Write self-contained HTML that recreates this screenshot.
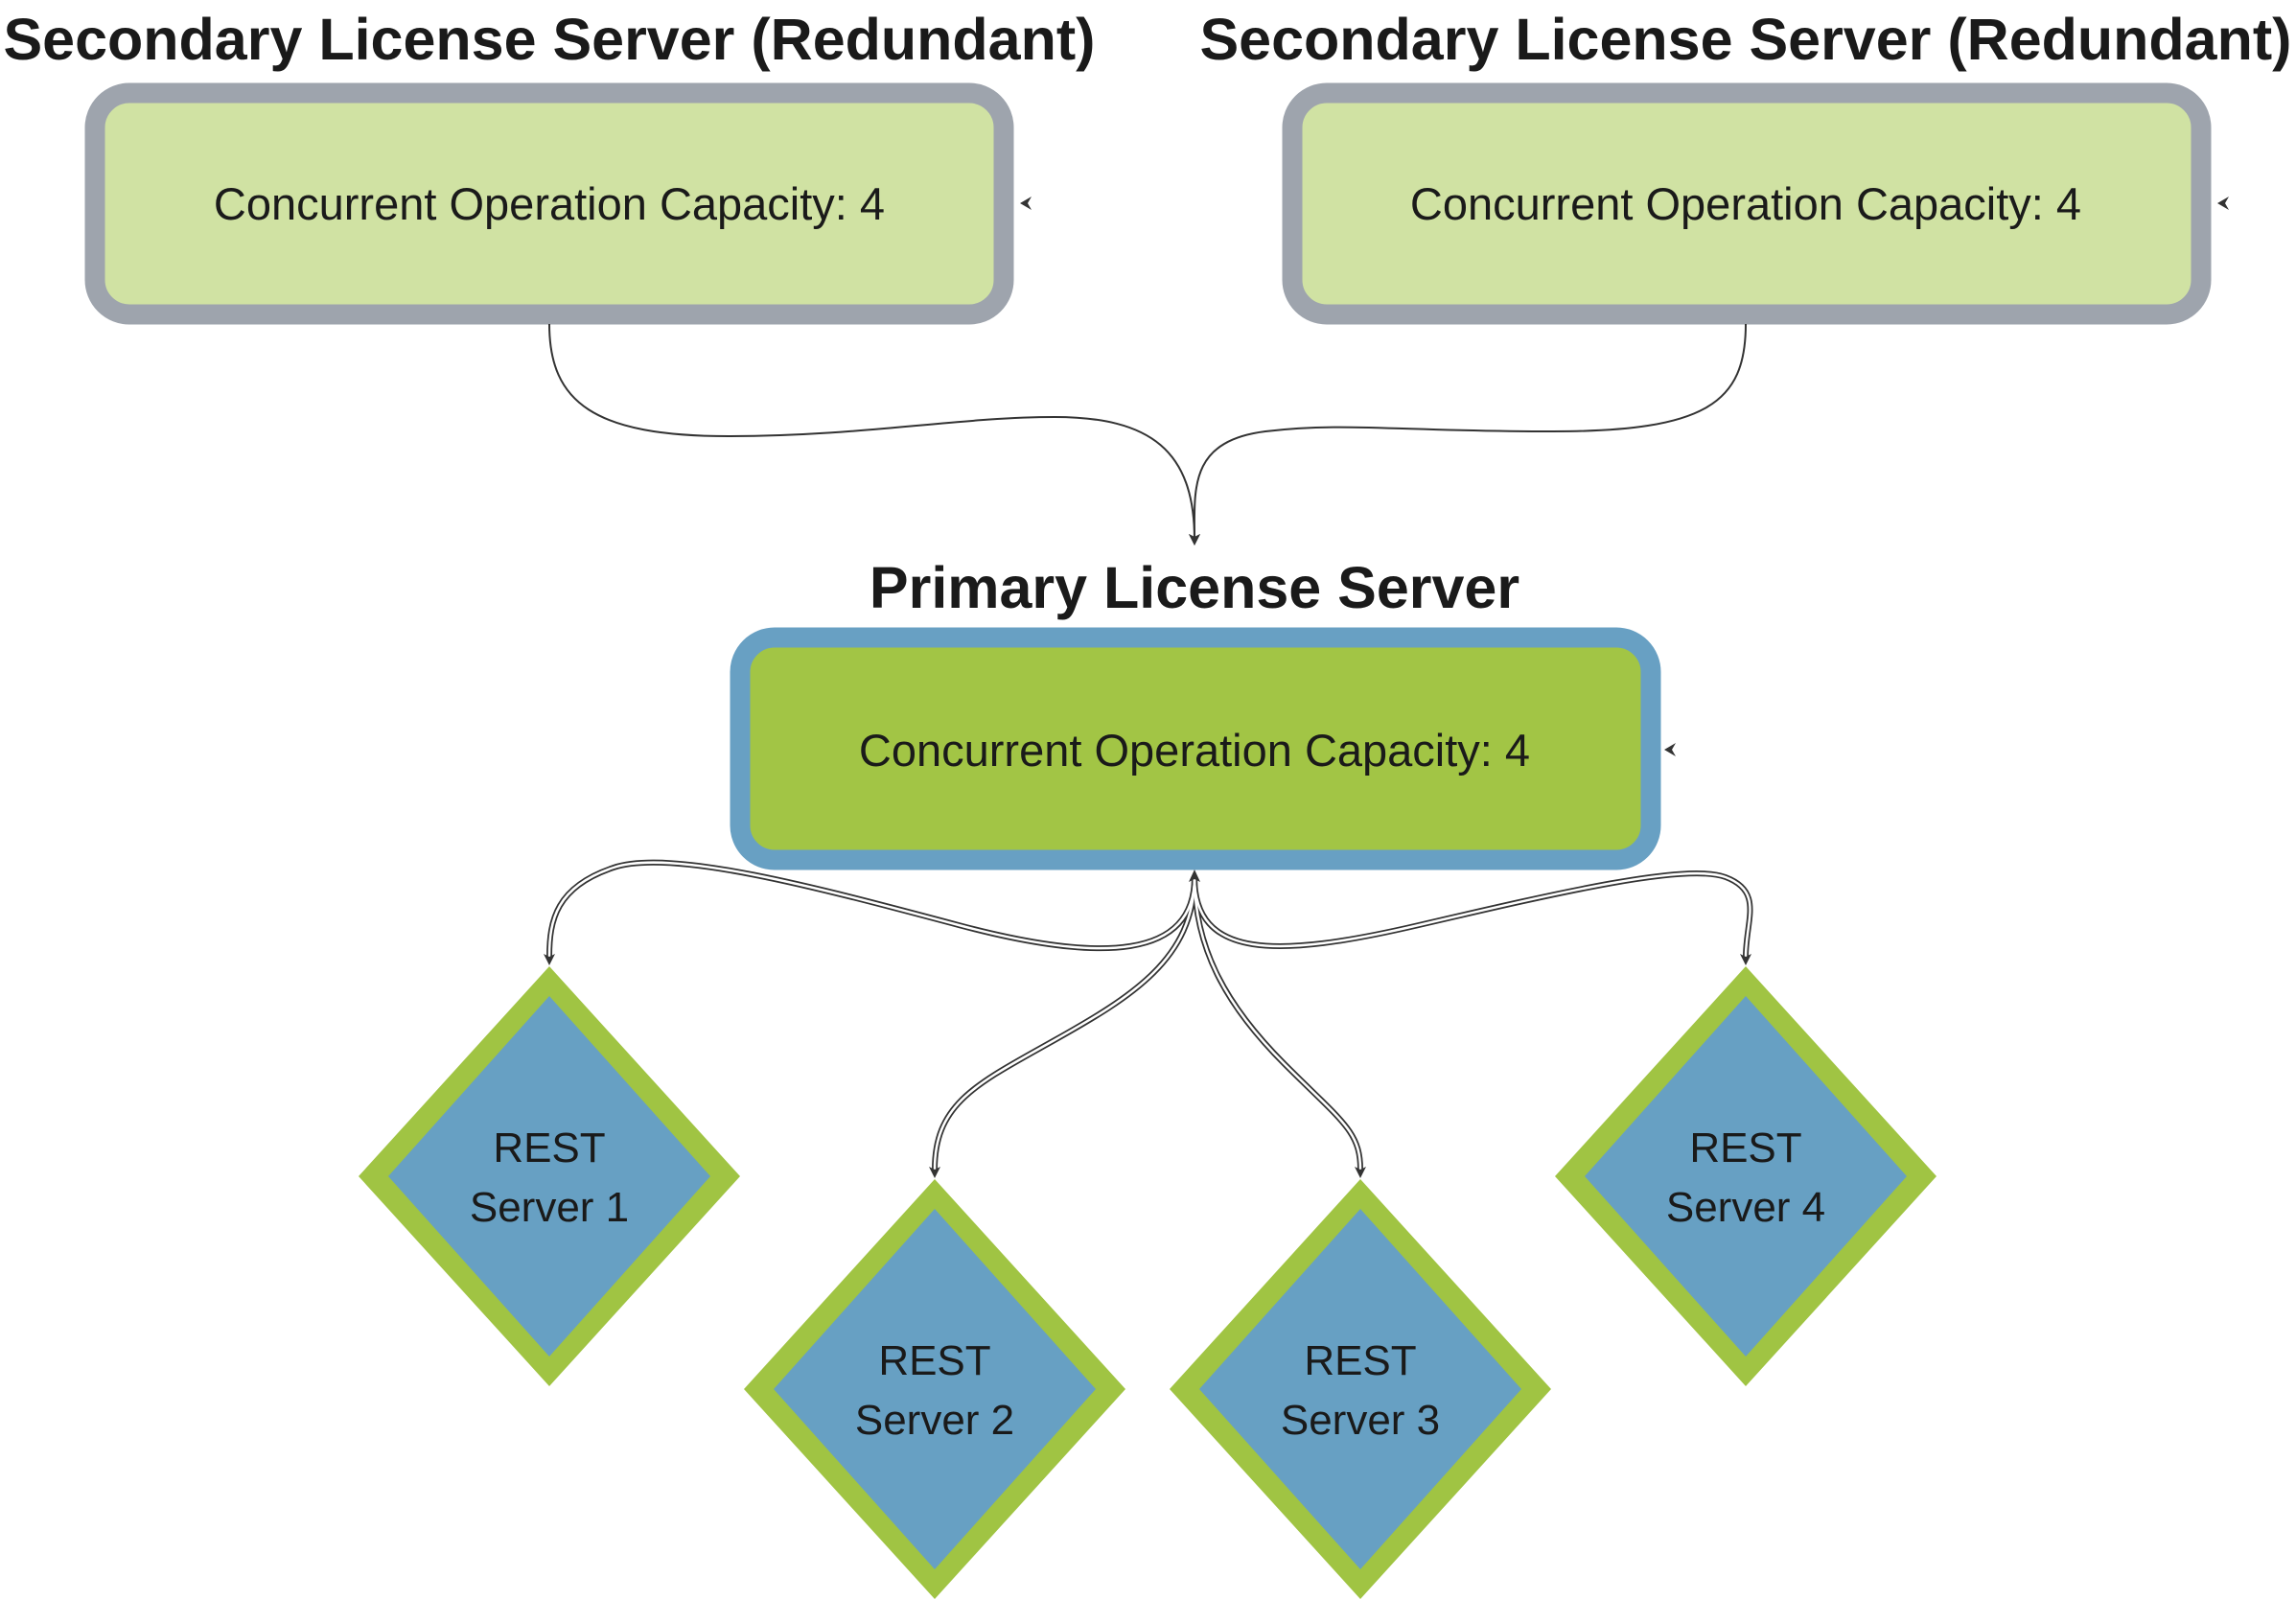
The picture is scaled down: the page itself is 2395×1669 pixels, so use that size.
<!DOCTYPE html>
<html><head><meta charset="utf-8"><style>
html,body{margin:0;padding:0;background:#fff;}
svg{display:block;}
text{font-family:"Liberation Sans","DejaVu Sans",sans-serif;fill:#1a1a1a;}
.t{font-weight:bold;font-size:61px;}
.c{font-size:47px;}
.d{font-size:44px;}
</style></head><body>
<svg width="2395" height="1669" viewBox="0 0 2395 1669" xmlns="http://www.w3.org/2000/svg">
<defs>
<marker id="ah" markerWidth="12" markerHeight="12" refX="6" refY="6" orient="auto" markerUnits="userSpaceOnUse"><path d="M0,0 L12,6 L0,12 L3,6 Z" fill="#333"/></marker>
</defs>
<text class="t" x="573" y="62" text-anchor="middle">Secondary License Server (Redundant)</text>
<text class="t" x="1821" y="62" text-anchor="middle">Secondary License Server (Redundant)</text>
<text class="t" x="1246" y="634" text-anchor="middle">Primary License Server</text>
<rect x="99" y="97" width="948" height="231" rx="36" fill="#d0e2a3" stroke="#9ea4ad" stroke-width="21"/>
<rect x="1348" y="97" width="948" height="231" rx="36" fill="#d0e2a3" stroke="#9ea4ad" stroke-width="21"/>
<text class="c" x="573" y="229" text-anchor="middle">Concurrent Operation Capacity: 4</text>
<text class="c" x="1821" y="229" text-anchor="middle">Concurrent Operation Capacity: 4</text>
<path d="M1076,205 L1064,212 L1076,219 L1072,212 Z" fill="#333"/>
<path d="M2325,205 L2313,212 L2325,219 L2321,212 Z" fill="#333"/>
<rect x="772" y="665" width="950" height="232" rx="36" fill="#a2c545" stroke="#68a0c3" stroke-width="21"/>
<text class="c" x="1246" y="799" text-anchor="middle">Concurrent Operation Capacity: 4</text>
<path d="M1748,775 L1736,782 L1748,789 L1744,782 Z" fill="#333"/>
<g fill="none" stroke="#333" stroke-width="2">
<path d="M573,338 C573,420 620,455 760,455 S1000,435 1100,435 S1246,470 1246,563" marker-end="url(#ah)"/>
<path d="M1821,338 C1821,420 1780,450 1620,450 S1400,440 1320,450 S1246,510 1246,563" marker-end="url(#ah)"/>
</g>
<g>
<polygon points="573,1008 772,1227 573,1446 374,1227" fill="#a0c443"/>
<polygon points="573,1039 741,1227 573,1415 405,1227" fill="#67a0c3"/>
<polygon points="975,1230 1174,1449 975,1668 776,1449" fill="#a0c443"/>
<polygon points="975,1261 1143,1449 975,1637 807,1449" fill="#67a0c3"/>
<polygon points="1419,1230 1618,1449 1419,1668 1220,1449" fill="#a0c443"/>
<polygon points="1419,1261 1587,1449 1419,1637 1251,1449" fill="#67a0c3"/>
<polygon points="1821,1008 2020,1227 1821,1446 1622,1227" fill="#a0c443"/>
<polygon points="1821,1039 1989,1227 1821,1415 1653,1227" fill="#67a0c3"/>
</g>
<text class="d" x="573" y="1212" text-anchor="middle">REST</text>
<text class="d" x="573" y="1274" text-anchor="middle">Server 1</text>
<text class="d" x="975" y="1434" text-anchor="middle">REST</text>
<text class="d" x="975" y="1496" text-anchor="middle">Server 2</text>
<text class="d" x="1419" y="1434" text-anchor="middle">REST</text>
<text class="d" x="1419" y="1496" text-anchor="middle">Server 3</text>
<text class="d" x="1821" y="1212" text-anchor="middle">REST</text>
<text class="d" x="1821" y="1274" text-anchor="middle">Server 4</text>
<g fill="none">
<g stroke="#333" stroke-width="6">
<path d="M1246,915 C1246,1000 1150,1005 1000,965 S700,885 640,905 S573,960 573,998"/>
<path d="M1246,915 C1246,1000 1330,1000 1480,965 S1760,900 1800,915 S1821,960 1821,998"/>
<path d="M1246,915 C1246,1000 1180,1040 1100,1085 S975,1150 975,1220"/>
<path d="M1246,915 C1246,990 1280,1050 1340,1110 S1419,1180 1419,1220"/>
</g>
<g stroke="#fff" stroke-width="2.5">
<path d="M1246,915 C1246,1000 1150,1005 1000,965 S700,885 640,905 S573,960 573,998"/>
<path d="M1246,915 C1246,1000 1330,1000 1480,965 S1760,900 1800,915 S1821,960 1821,998"/>
<path d="M1246,915 C1246,1000 1180,1040 1100,1085 S975,1150 975,1220"/>
<path d="M1246,915 C1246,990 1280,1050 1340,1110 S1419,1180 1419,1220"/>
</g>
</g>
<path d="M567,995 L573,1007 L579,995 L573,998 Z" fill="#333"/>
<path d="M1815,995 L1821,1007 L1827,995 L1821,998 Z" fill="#333"/>
<path d="M969,1217 L975,1229 L981,1217 L975,1220 Z" fill="#333"/>
<path d="M1413,1217 L1419,1229 L1425,1217 L1419,1220 Z" fill="#333"/>
<path d="M1240,920 L1246,907 L1252,920 L1246,917 Z" fill="#333"/>
</svg>
</body></html>
